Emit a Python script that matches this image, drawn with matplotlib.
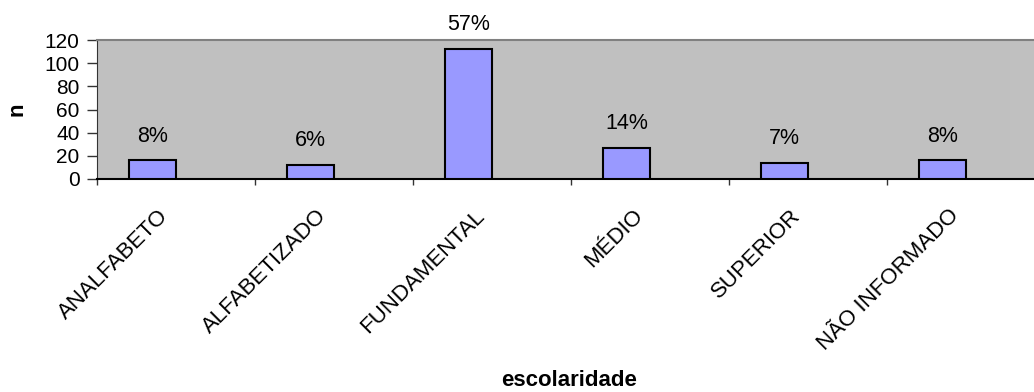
import matplotlib
matplotlib.use("Agg")
import matplotlib.pyplot as plt
import matplotlib.transforms as mtransforms
import numpy as np

plt.rcParams['font.family'] = ['Liberation Sans', 'DejaVu Sans']

categories = ["ANALFABETO", "ALFABETIZADO", "FUNDAMENTAL", "MÉDIO", "SUPERIOR", "NÃO INFORMADO"]
counts = [16, 12, 112, 27, 14, 16]
y_ticks = [0, 20, 40, 60, 80, 100, 120]

total = sum(counts)
shares = [c / total * 100 for c in counts]

W, H = 1034, 392
fig = plt.figure(figsize=(W / 100, H / 100), dpi=100)
# axes runs slightly past the right edge of the figure
ax_left, ax_right, ax_bottom, ax_top = 97, 1045, 179, 40
ax = fig.add_axes([ax_left / W, (H - ax_bottom) / H,
                   (ax_right - ax_left) / W, (ax_bottom - ax_top) / H])
ax.set_facecolor('#C0C0C0')

x = np.arange(len(categories))
bar_w = 0.295
# bars sit just left of the category centre
bars = ax.bar(x - bar_w / 2, counts, width=bar_w, color='#9999FF',
              edgecolor='black', linewidth=1.5, zorder=3)

for xi, c, s in zip(x, counts, shares):
    ax.annotate(f"{s:.0f}%", xy=(xi - bar_w / 2, c), xytext=(0, 17.5),
                textcoords='offset points', ha='center', va='center',
                fontsize=15.5, color='black')

ax.set_xlim(-0.5, len(categories) - 0.5)
ax.set_ylim(0, 120)
ax.set_yticks(y_ticks)
ax.set_yticklabels([str(v) for v in y_ticks], fontsize=15)

# boundaries between categories carry tick marks; centres carry labels
ax.set_xticks(np.arange(-0.5, len(categories), 1.0))
ax.set_xticklabels([])
ax.set_xticks(x, minor=True)
ax.set_xticklabels(categories, minor=True, rotation=45, ha='right', va='top',
                   rotation_mode='anchor', fontsize=16)
ax.tick_params(axis='x', which='major', direction='out', length=4.5, width=1, color='#333333')
ax.tick_params(axis='x', which='minor', length=0, pad=19)
ax.tick_params(axis='y', direction='out', length=7, width=1, color='#333333', pad=5.5)

shift = mtransforms.ScaledTranslation(-18 / 100, 0, fig.dpi_scale_trans)
for lbl in ax.get_xticklabels(minor=True):
    lbl.set_transform(lbl.get_transform() + shift)

ax.spines['top'].set_color('#808080')
ax.spines['top'].set_linewidth(1.5)
ax.spines['right'].set_visible(False)
ax.spines['left'].set_color('#333333')
ax.spines['bottom'].set_color('black')
ax.spines['bottom'].set_linewidth(1.5)

fig.text(569 / W, 1 - 380 / H, "escolaridade", ha='center', va='center',
         fontsize=16, fontweight='bold')
fig.text(17 / W, 1 - 109 / H, "n", ha='center', va='center', rotation=90,
         fontsize=16, fontweight='bold')

fig.savefig("out.png", dpi=100)
